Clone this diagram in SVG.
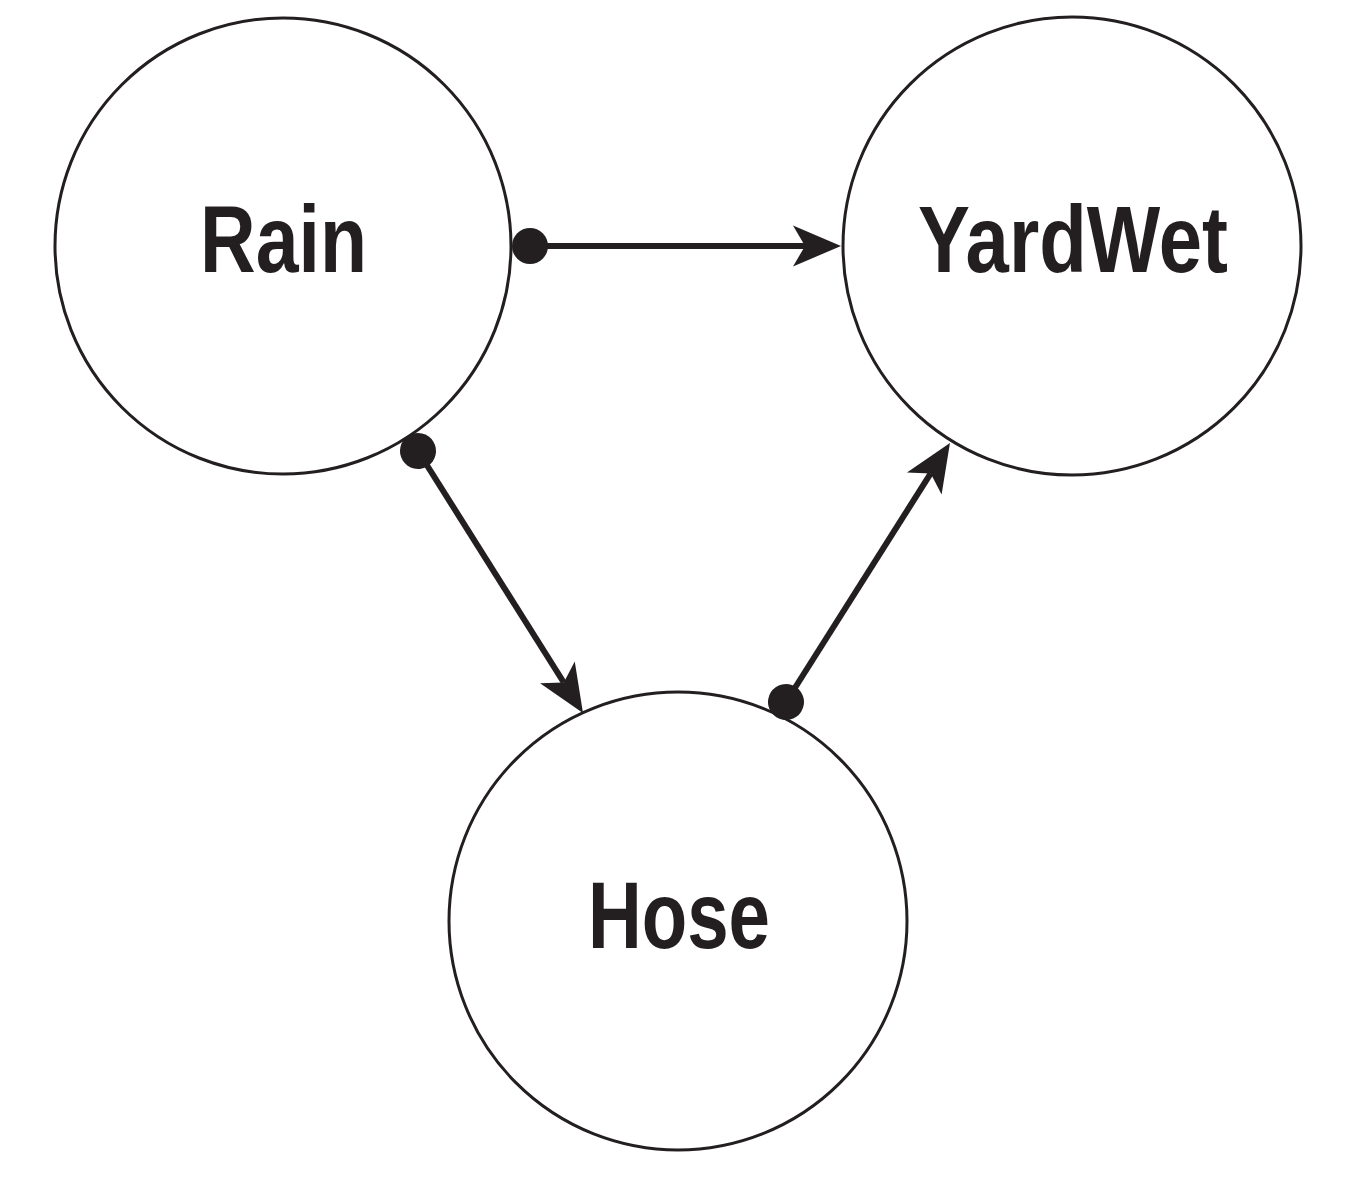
<svg xmlns="http://www.w3.org/2000/svg" width="1349" height="1186" viewBox="0 0 1349 1186">
<style>
.node{fill:#fff;stroke:#231f20;stroke-width:3}
.lbl{font-family:"Liberation Sans",Arial,sans-serif;font-weight:bold;font-size:94px;fill:#231f20;text-anchor:start}
.edge{stroke:#231f20;stroke-width:6;fill:none;marker-start:url(#dot);marker-end:url(#head)}
</style>
<defs>
<marker id="head" markerUnits="userSpaceOnUse" viewBox="-14 -22 52 44" refX="0" refY="0" markerWidth="52" markerHeight="44" orient="auto" overflow="visible">
<path d="M36,0 L-12,-20.5 L0,0 L-12,20.5 Z" fill="#231f20"/>
</marker>
<marker id="dot" markerUnits="userSpaceOnUse" viewBox="-20 -20 40 40" refX="0" refY="0" markerWidth="40" markerHeight="40" orient="auto" overflow="visible">
<circle cx="0" cy="0" r="18" fill="#231f20"/>
</marker>
</defs>
<rect width="1349" height="1186" fill="#fff"/>
<g id="Rain">
<circle class="node" cx="283" cy="246" r="228"/>
<text class="lbl" x="200" y="272" textLength="167" lengthAdjust="spacingAndGlyphs">Rain</text>
</g>
<g id="YardWet">
<circle class="node" cx="1072" cy="246" r="229"/>
<text class="lbl" x="918" y="272" textLength="310" lengthAdjust="spacingAndGlyphs">YardWet</text>
</g>
<g id="Hose">
<circle class="node" cx="678" cy="921" r="229"/>
<text class="lbl" x="588" y="948" textLength="182" lengthAdjust="spacingAndGlyphs">Hose</text>
</g>
<g id="connectors">
<line class="edge" x1="530" y1="246" x2="805" y2="246"/>
<line class="edge" x1="418" y1="451" x2="563.8" y2="682.5"/>
<line class="edge" x1="786" y1="702" x2="930.7" y2="473.4"/>
</g>
</svg>
